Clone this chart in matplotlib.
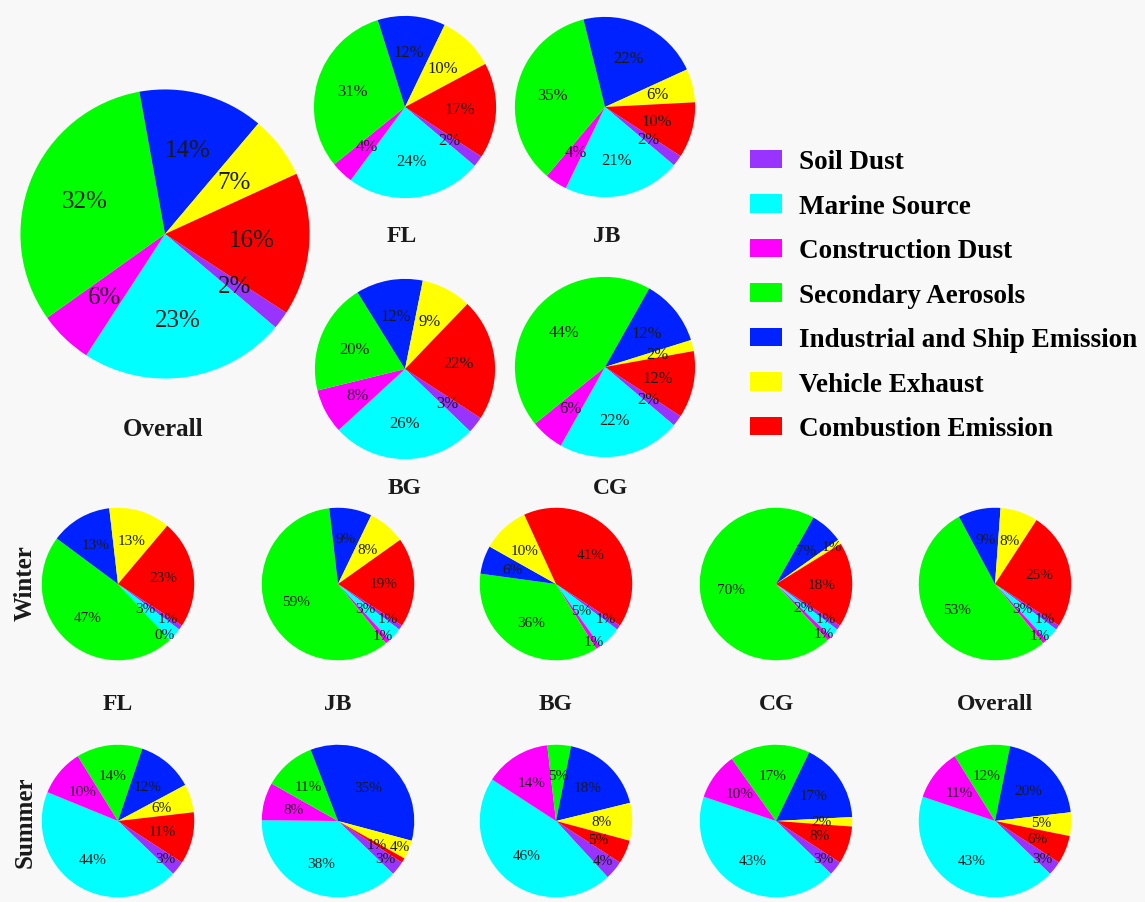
import matplotlib.pyplot as plt

W, H = 1145, 903

sources = ['Soil Dust', 'Marine Source', 'Construction Dust', 'Secondary Aerosols',
           'Industrial and Ship Emission', 'Vehicle Exhaust', 'Combustion Emission']
colors = ['#9933ff', '#00ffff', '#ff00ff', '#00ff00', '#0022ff', '#ffff00', '#ff0000']

# source contributions (%) for the whole campaign
overall = [2, 23, 6, 32, 14, 7, 16]
fl = [2, 24, 4, 31, 12, 10, 17]
jb = [2, 21, 4, 35, 22, 6, 10]
bg = [3, 26, 8, 20, 12, 9, 22]
cg = [2, 22, 6, 44, 12, 2, 12]

# winter
winter_fl = [1, 3, 0, 47, 13, 13, 23]
winter_jb = [1, 3, 1, 59, 9, 8, 19]
winter_bg = [1, 5, 1, 36, 6, 10, 41]
winter_cg = [1, 2, 1, 70, 7, 1, 18]
winter_all = [1, 3, 1, 53, 9, 8, 25]

# summer
summer_fl = [3, 44, 10, 14, 12, 6, 11]
summer_jb = [3, 38, 8, 11, 35, 4, 1]
summer_bg = [4, 46, 14, 5, 18, 8, 5]
summer_cg = [3, 43, 10, 17, 17, 2, 8]
summer_all = [3, 43, 11, 12, 20, 5, 6]

site_names = ['FL', 'JB', 'BG', 'CG', 'Overall']

SERIF = 'Liberation Serif'

fig = plt.figure(figsize=(W / 100, H / 100), dpi=100)
fig.patch.set_facecolor('#f8f8f8')


def draw_pie(cx, cy, r, vals, fs, label_r=None):
    # cx, cy, r in pixels, measured from the top-left corner
    ax = fig.add_axes([(cx - r) / W, 1 - (cy + r) / H, 2 * r / W, 2 * r / H])
    wedges, texts, autotexts = ax.pie(
        vals, colors=colors, startangle=-33, counterclock=False,
        autopct=lambda p: '%.0f%%' % p, pctdistance=0.6,
        textprops=dict(fontsize=fs, family=SERIF, color='#1a1a1a'),
        wedgeprops=dict(linewidth=0))
    ax.set_xlim(-1.01, 1.01)
    ax.set_ylim(-1.01, 1.01)
    # crowded small slices: spread their labels along the radius
    for i, rr in (label_r or {}).items():
        t = autotexts[i]
        x, y = t.get_position()
        t.set_position((x * rr / 0.6, y * rr / 0.6))
    return wedges


def title(x, y, s, fs=17, rot=0):
    fig.text(x / W, 1 - y / H, s, ha='center', va='center', fontsize=fs,
             fontweight='bold', family=SERIF, rotation=rot, color='#1a1a1a')


# big overall pie and the four sites
handles = draw_pie(165, 235, 146, overall, 18)
title(163, 430, 'Overall', 18)

draw_pie(405, 108, 92, fl, 12)
draw_pie(605, 108, 91, jb, 12)
draw_pie(405, 370, 91, bg, 12)
draw_pie(605, 368, 91, cg, 12)
title(402, 237, 'FL')
title(607, 237, 'JB')
title(405, 489, 'BG')
title(610, 489, 'CG')

# seasonal rows
xs = [118, 338, 556, 776, 995]
winter = [winter_fl, winter_jb, winter_bg, winter_cg, winter_all]
summer = [summer_fl, summer_jb, summer_bg, summer_cg, summer_all]
winter_r = {0: 0.8, 1: 0.48, 2: 0.9}
summer_r = {0: 0.8}
for x, vals in zip(xs, winter):
    lr = dict(winter_r)
    if vals is winter_cg:
        lr[5] = 0.88
    draw_pie(x, 585, 77, vals, 11, label_r=lr)
for x, vals in zip(xs, summer):
    lr = dict(summer_r)
    if vals is summer_jb:
        lr[5] = 0.88
    draw_pie(x, 822, 77, vals, 11, label_r=lr)
for x, name in zip(xs, site_names):
    title(x, 705, name)

title(25, 583, 'Winter', 18, 90)
title(25, 822, 'Summer', 18, 90)

fig.legend(handles, sources, loc='upper left', bbox_to_anchor=(726 / W, 1 - 126 / H),
           frameon=False, handlelength=1.18, handleheight=0.67, labelspacing=0.72,
           handletextpad=0.6,
           prop=dict(family=SERIF, weight='bold', size=19.5))

fig.savefig('out.png', dpi=100, facecolor=fig.get_facecolor())
